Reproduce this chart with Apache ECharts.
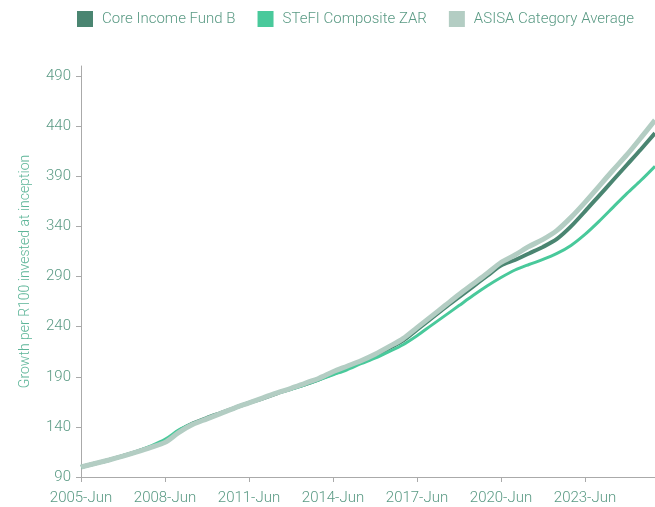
<!DOCTYPE html>
<html>
<head>
<meta charset="utf-8">
<script src="https://cdn.jsdelivr.net/npm/echarts@6/dist/echarts.min.js"></script>
<style>
  html, body { margin: 0; padding: 0; background: #fff; }
  #chartLineBox { width: 655px; height: 507px; }
</style>
</head>
<body>
<div id="chartLineBox"></div>
<script>
// half-yearly points, 2005-Jun .. 2025-Dec
var dateArr = [
  '2005-Jun', '2005-Dec', '2006-Jun', '2006-Dec', '2007-Jun', '2007-Dec',
  '2008-Jun', '2008-Dec', '2009-Jun', '2009-Dec', '2010-Jun', '2010-Dec',
  '2011-Jun', '2011-Dec', '2012-Jun', '2012-Dec', '2013-Jun', '2013-Dec',
  '2014-Jun', '2014-Dec', '2015-Jun', '2015-Dec', '2016-Jun', '2016-Dec',
  '2017-Jun', '2017-Dec', '2018-Jun', '2018-Dec', '2019-Jun', '2019-Dec',
  '2020-Jun', '2020-Dec', '2021-Jun', '2021-Dec', '2022-Jun', '2022-Dec',
  '2023-Jun', '2023-Dec', '2024-Jun', '2024-Dec', '2025-Jun', '2025-Dec'
];

// Core Income Fund B
var coreArr = [
  100, 103.5, 107, 111, 115.3, 120,
  125.5, 136, 143.5, 149, 154, 159,
  164, 168.5, 173.5, 178, 182.5, 187.5,
  193, 198.5, 204.5, 211, 218.5, 226,
  237, 248, 259, 269.5, 280, 290.5,
  301, 306.5, 313, 319.5, 327.5, 340,
  355, 370.5, 386, 401.5, 417, 433
];

// STeFI Composite ZAR
var stefiArr = [
  100, 103.5, 107.2, 111.3, 115.6, 121,
  127.5, 137, 143.5, 149, 154, 159,
  164, 168.5, 173.5, 177.5, 182, 187,
  192, 197, 203, 208.5, 215, 222,
  231, 241, 251, 261, 271, 280.5,
  289, 296.5, 302, 307, 313, 321,
  332, 345, 359, 373, 386, 400
];

// ASISA Category Average
var asisaArr = [
  100, 103.5, 107, 110.8, 115, 119.5,
  124.5, 134.5, 142.5, 148, 153.5, 159,
  164, 169, 174, 178.5, 183.5, 188.5,
  195, 200.5, 206, 212.5, 220, 228,
  239, 250, 261, 272, 282.5, 293,
  304, 311.5, 320, 327, 336, 349,
  364, 380, 396, 411.5, 428.5, 446
];

var legendArr = ['Core Income Fund B', 'STeFI Composite ZAR', 'ASISA Category Average'];
var colorArr = ['#4a8571', '#49c99b', '#b3cdc3'];

var labelColor = '#5a9a84';
var fontName = 'Roboto';

var chartLine = echarts.init(document.getElementById('chartLineBox'));
var option = {
  animation: false,
  color: colorArr,
  legend: {
    data: legendArr,
    left: 72,
    top: 6,
    itemWidth: 16,
    itemHeight: 16,
    itemGap: 22,
    icon: 'rect',
    textStyle: {
      color: labelColor,
      fontSize: 15,
      fontFamily: fontName,
      fontWeight: 300,
      padding: [0, 0, 0, 4]
    }
  },
  grid: {
    left: 81,
    right: 0,
    top: 66,
    bottom: 30
  },
  xAxis: {
    type: 'category',
    boundaryGap: false,     // 两边不留白
    data: dateArr,
    axisLine: { lineStyle: { color: '#aaaaaa', width: 1 } },
    axisTick: { interval: 5, length: 5, lineStyle: { color: '#aaaaaa' } },
    axisLabel: {
      interval: 5,
      color: labelColor,
      fontSize: 15,
      fontFamily: fontName,
      fontWeight: 300,
      margin: 14
    },
    splitLine: { show: false }
  },
  yAxis: {
    type: 'value',
    min: 90,
    max: 500,
    interval: 50,
    name: 'Growth per R100 invested at inception',
    nameLocation: 'middle',
    nameGap: 49,
    nameTextStyle: {
      color: '#5db598',
      fontSize: 14,
      fontFamily: fontName,
      fontWeight: 300
    },
    axisLine: { show: true, lineStyle: { color: '#aaaaaa', width: 1 } },
    axisTick: { show: true, length: 5, lineStyle: { color: '#aaaaaa' } },
    axisLabel: {
      color: labelColor,
      fontSize: 15,
      fontFamily: fontName,
      fontWeight: 300,
      margin: 10,
      showMaxLabel: false
    },
    splitLine: { show: false }
  },
  series: [
    {
      name: legendArr[0],
      type: 'line',
      data: coreArr,
      symbol: 'none',
      smooth: 0.3,
      lineStyle: { width: 4, color: colorArr[0] }
    },
    {
      name: legendArr[1],
      type: 'line',
      data: stefiArr,
      symbol: 'none',
      smooth: 0.3,
      lineStyle: { width: 3, color: colorArr[1] }
    },
    {
      name: legendArr[2],
      type: 'line',
      data: asisaArr,
      symbol: 'none',
      smooth: 0.3,
      lineStyle: { width: 5, color: colorArr[2] }
    }
  ]
};
chartLine.setOption(option);
</script>
</body>
</html>
